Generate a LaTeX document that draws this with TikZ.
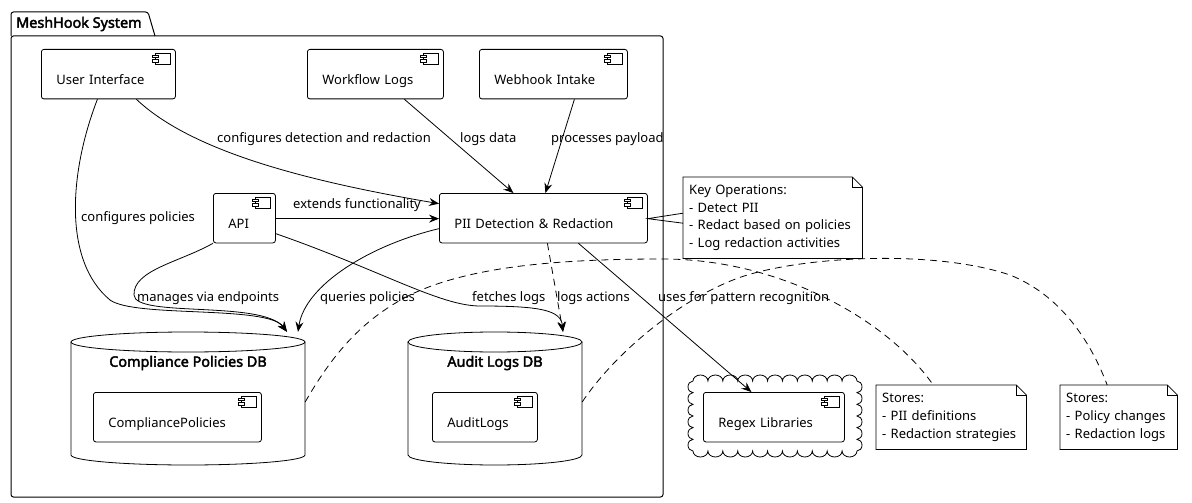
\documentclass[tikz,border=0pt]{standalone}
\usepackage{fontspec}
\setmainfont{Noto Sans}[AutoFakeBold=2.6]
\usetikzlibrary{arrows.meta}
\newcommand\compicon[1]{%
  \draw[fill=white,line width=0.8pt] ([shift={(-20,4)}]#1.north east) rectangle ([shift={(-5,15)}]#1.north east);
  \draw[fill=white,line width=0.8pt] ([shift={(-23,6)}]#1.north east) rectangle ([shift={(-17,8.5)}]#1.north east);
  \draw[fill=white,line width=0.8pt] ([shift={(-23,10.5)}]#1.north east) rectangle ([shift={(-17,13)}]#1.north east);}
\newcommand\noteoutline[1]{%
  \draw[line width=0.8pt] (#1.north west) -- ([xshift=-10pt]#1.north east) -- ([yshift=-10pt]#1.north east) -- (#1.south east) -- (#1.south west) -- cycle;
  \draw[line width=0.8pt] ([xshift=-10pt]#1.north east) -- ([xshift=-10pt,yshift=-10pt]#1.north east) -- ([yshift=-10pt]#1.north east);}
\begin{document}
\begin{tikzpicture}[x={(1pt,0pt)},y={(0pt,-1pt)},
  every node/.style={font=\fontsize{13}{17.7}\selectfont},
  comp/.style={draw, rounded corners=2.5pt, line width=0.8pt, fill=white, anchor=north west,
    inner xsep=15pt, inner ysep=0pt, text height=35.5pt, text depth=14pt, align=left},
  notebox/.style={anchor=north west, inner xsep=6pt, inner ysep=0pt, align=left, fill=white},
  lbl/.style={anchor=west, inner sep=0pt},
  conn/.style={line width=0.8pt, -{Stealth[length=10pt,width=8pt,inset=3.5pt]}},
  dep/.style={conn, dash pattern=on 7pt off 5pt},
  link/.style={line width=0.8pt, dash pattern=on 7pt off 5pt},
  dbshape/.style={line width=0.8pt, fill=white},
  boldtxt/.style={font=\fontsize{14.4}{17}\selectfont\bfseries}]
\useasboundingbox[fill=white] (0,0) rectangle (1192,503);

% package
\draw[line width=1pt, rounded corners=2.5pt] (11,36) -- (11,12) -- (148,12) -- (155,36);
\draw[line width=1pt, rounded corners=2.5pt] (11,36) rectangle (663,497);
\node[anchor=west, inner sep=0pt, boldtxt] (pkgtitle) at (16,24) {MeshHook System};

% databases
\draw[dbshape] (71,342) -- (71,455) arc[start angle=180,end angle=0,x radius=117,y radius=10] -- (305,342);
\draw[dbshape] (188,342) ellipse[x radius=117,y radius=10];
\node[inner sep=0pt] (cpdb) at (188,398.5) [minimum width=234pt, minimum height=133pt] {};
\node[boldtxt] (cptitle) at (188,363) {Compliance Policies DB};

\draw[dbshape] (408,342) -- (408,455) arc[start angle=180,end angle=0,x radius=87,y radius=10] -- (582,342);
\draw[dbshape] (495,342) ellipse[x radius=87,y radius=10];
\node[inner sep=0pt] (aldb) at (495,398.5) [minimum width=174pt, minimum height=133pt] {};
\node[boldtxt] (altitle) at (495,363) {Audit Logs DB};

% cloud
\draw[line width=0.8pt, fill=white] (693,381)
  \foreach \i in {1,...,11} { arc[start angle=180,end angle=360,x radius=7.4545,y radius=6] }
  \foreach \i in {1,...,6} { arc[start angle=270,end angle=450,x radius=5,y radius=5.8333] }
  \foreach \i in {1,...,11} { arc[start angle=0,end angle=180,x radius=7.4545,y radius=6] }
  \foreach \i in {1,...,6} { arc[start angle=90,end angle=270,x radius=5,y radius=5.8333] } -- cycle;

% components
\node[comp, text width=104pt] (ui) at (41,49) {User Interface};
\node[comp, text width=106pt] (wl) at (307,49) {Workflow Logs};
\node[comp, text width=118pt] (wh) at (479,49) {Webhook Intake};
\node[comp, text width=32pt] (api) at (213,193) {API};
\node[comp, text width=178pt] (pii) at (439,193) {PII Detection \& Redaction};
\node[comp, text width=138pt] (cp) at (93,392) {CompliancePolicies};
\node[comp, text width=75pt] (al) at (432,392) {AuditLogs};
\node[comp, text width=111pt] (rx) at (703,392) {Regex Libraries};
\foreach \c in {ui,wl,wh,api,pii,cp,al,rx} {\compicon{\c}}

% notes
\node[notebox, text width=167pt, minimum height=81pt] (keyop) at (683,177)
  {Key Operations:\\- Detect PII\\- Redact based on policies\\- Log redaction activities};
\noteoutline{keyop}
\node[notebox, text width=138pt, minimum height=64pt] (n1) at (876,385)
  {Stores:\\- PII definitions\\- Redaction strategies};
\noteoutline{n1}
\node[notebox, text width=105pt, minimum height=64pt] (n2) at (1060,385)
  {Stores:\\- Policy changes\\- Redaction logs};
\noteoutline{n2}

% note wedge
\draw[line width=0.8pt] ([yshift=4.5pt]keyop.west) -- ([yshift=-0.5pt]pii.east) -- ([yshift=-5.5pt]keyop.west);

% connectors
\draw[conn] ([xshift=28pt]ui.south) .. controls (190,150) and (300,180) .. ([yshift=14.5pt]pii.west);
\draw[conn] ([xshift=-11pt]ui.south) .. controls (70,170) and (62,260) .. (110,300) .. controls (135,318) and (268,305) .. ([xshift=99pt]cpdb.north);
\draw[conn] (api.south west) .. controls (180,262) and (133,270) .. (134,295) .. controls (135,318) and (262,300) .. ([xshift=99pt]cpdb.north);
\draw[conn] ([yshift=-0.5pt]api.east) -- ([yshift=-0.5pt]pii.west);
\draw[conn] ([yshift=-15.5pt]api.east) .. controls (380,270) and (440,306) .. (480,306) .. controls (540,306) and (561,310) .. ([xshift=68pt]aldb.north);
\draw[conn] ([yshift=-10.5pt]pii.west) .. controls (370,245) and (305,285) .. ([xshift=110pt]cpdb.north);
\draw[dep] ([xshift=4pt]pii.south) -- ([xshift=68pt]aldb.north);
\draw[conn] ([xshift=35pt]pii.south) -- ([xshift=-22.5pt]rx.north);
\draw[conn] ([xshift=29pt]wl.south) -- ([xshift=-30pt]pii.north);
\draw[conn] ([xshift=21pt]wh.south) -- ([xshift=2pt]pii.north);

% note links
\draw[link] ([yshift=-3.5pt]cpdb.east) .. controls (335,350) and (365,318) .. (410,295) .. controls (470,266) and (560,259) .. (663,259) .. controls (780,259) and (888,320) .. ([xshift=-18pt]n1.north);
\draw[link] ([yshift=-3.5pt]aldb.east) .. controls (610,360) and (670,305) .. (733,280) .. controls (790,257) and (930,248) .. (1010,275) .. controls (1060,295) and (1090,340) .. ([xshift=-11.5pt]n2.north);

% labels
\node[lbl] (l1) at (217,139) {configures detection and redaction};
\node[lbl] (l2) at (460,139) {logs data};
\node[lbl] (l3) at (551,139) {processes payload};
\node[lbl] (l4) at (81,218) {configures policies};
\node[lbl] (l5) at (293,205) {extends functionality};
\node[lbl] (l6) at (137,298) {manages via endpoints};
\node[lbl] (l7) at (320,298) {queries policies};
\node[lbl] (l8) at (472,298) {fetches logs};
\node[lbl] (l9) at (557,298) {logs actions};
\node[lbl] (l10) at (658,298) {uses for pattern recognition};
\end{tikzpicture}
\end{document}
